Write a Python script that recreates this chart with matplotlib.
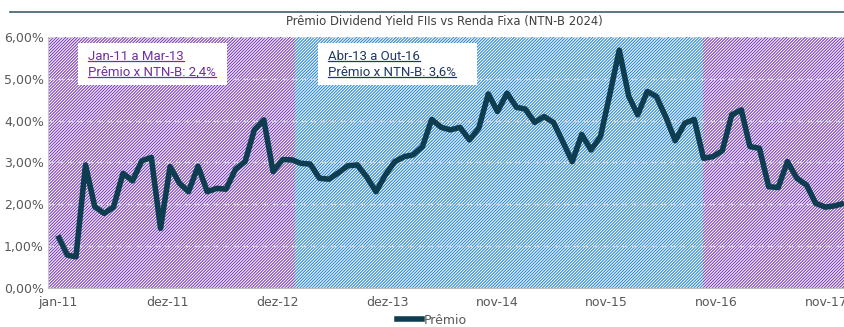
import matplotlib
matplotlib.use("Agg")
import matplotlib.pyplot as plt
from matplotlib.patches import Rectangle
from matplotlib.lines import Line2D
from matplotlib.ticker import FuncFormatter
import pandas as pd

# Monthly premium of FII dividend yield over NTN-B 2024 (%)
months = pd.date_range("2011-01-01", periods=85, freq="MS")
premio = [1.25, 0.78, 0.74, 2.94, 1.94, 1.78, 1.93, 2.74, 2.56, 3.04,
          3.12, 1.42, 2.90, 2.50, 2.30, 2.91, 2.30, 2.38, 2.36, 2.84,
          3.02, 3.78, 4.02, 2.78, 3.07, 3.06, 2.98, 2.96, 2.62, 2.60,
          2.75, 2.92, 2.94, 2.66, 2.30, 2.70, 3.02, 3.14, 3.18, 3.38,
          4.03, 3.84, 3.78, 3.84, 3.54, 3.82, 4.64, 4.22, 4.66, 4.32,
          4.28, 3.96, 4.10, 3.96, 3.50, 3.02, 3.67, 3.30, 3.62, 4.62,
          5.69, 4.58, 4.14, 4.70, 4.58, 4.08, 3.52, 3.94, 4.03, 3.10,
          3.14, 3.28, 4.14, 4.26, 3.38, 3.34, 2.42, 2.40, 3.02, 2.62,
          2.46, 2.02, 1.93, 1.96, 2.02]

# Shaded periods
period_edges = ["2010-11-30", "2013-02-10", "2016-10-01", "2018-01-01"]
period_colors = ["#7d40ba", "#2b88d6", "#7d40ba"]

# Period summaries
box_lines = [["Jan-11 a Mar-13", "Prêmio x NTN-B: 2,4%"],
             ["Abr-13 a Out-16", "Prêmio x NTN-B: 3,6%"]]
box_colors = ["#7030a0", "#1f3864"]

tick_start = pd.Timestamp("2011-01-01")
tick_labels = ["jan-11", "dez-11", "dez-12", "dez-13",
               "nov-14", "nov-15", "nov-16", "nov-17"]
y_ticks = [0, 1, 2, 3, 4, 5, 6]

plt.rcParams["hatch.linewidth"] = 0.8
narrow = ["Liberation Sans Narrow", "DejaVu Sans"]

fig = plt.figure(figsize=(8.44, 3.27), dpi=100)
ax = fig.add_axes([48 / 844, 39.3 / 327, 796 / 844, 250.5 / 327])

edges = [pd.Timestamp(e) for e in period_edges]
for (a, b), c in zip(zip(edges[:-1], edges[1:]), period_colors):
    ax.axvspan(a, b, facecolor="white", edgecolor=c, hatch="/" * 11,
               linewidth=0, zorder=0.5)

ax.plot(months, premio, color="#0e3d50", linewidth=4.0,
        solid_joinstyle="round", solid_capstyle="butt", zorder=2,
        label="Prêmio")

ax.set_xlim(edges[0], edges[-1])
ax.set_ylim(0, 6)
ax.set_yticks(y_ticks)
ax.yaxis.set_major_formatter(
    FuncFormatter(lambda v, p: f"{v:.2f}%".replace(".", ",")))
ticks = [tick_start + pd.Timedelta(days=357 * k) for k in range(len(tick_labels))]
ax.set_xticks(ticks)
ax.set_xticklabels(tick_labels)
ax.tick_params(length=0, labelsize=9, labelcolor="#595959", pad=6)
for lab in ax.get_xticklabels() + ax.get_yticklabels():
    lab.set_family(narrow)
ax.tick_params(axis="y", pad=3)

ax.set_axisbelow("line")
ax.grid(axis="y", color="#d4d4d4", linestyle=(0, (4, 3)), linewidth=1.0)
for s in ["top", "right"]:
    ax.spines[s].set_visible(False)
ax.spines["left"].set_color("#c8c8c8")
ax.spines["bottom"].set_color("#bfbfbf")
ax.spines["left"].set_zorder(1.6)
ax.spines["bottom"].set_zorder(1.6)

# Summary boxes
box_x = [(78, 227), (318, 477)]
text_x = [88, 328]
texts = []
for (x0, x1), tx, lines, col in zip(box_x, text_x, box_lines, box_colors):
    ax.add_patch(Rectangle((x0 / 844, 1 - 85 / 327), (x1 - x0) / 844,
                           42 / 327, transform=fig.transFigure,
                           facecolor="white", edgecolor="none", zorder=3))
    for ln, yy in zip(lines, [56, 72]):
        t = fig.text(tx / 844, 1 - yy / 327, ln, color=col, fontsize=9.5,
                     family=["Roboto", "DejaVu Sans"], va="center", ha="left",
                     zorder=4)
        texts.append((t, col))

fig.text(0.526, 1 - 22 / 327,
         "Prêmio Dividend Yield FIIs vs Renda Fixa (NTN-B 2024)",
         ha="center", va="center", fontsize=8.4, color="#404040",
         family=narrow)

fig.add_artist(Line2D([10 / 844, 1], [1 - 12 / 327, 1 - 12 / 327],
                      color="#3e5f6b", linewidth=1.2))

fig.legend(handles=[Line2D([], [], color="#0e3d50", linewidth=4.0)],
           labels=["Prêmio"], loc="center", bbox_to_anchor=(0.512, 1 - 320 / 327),
           frameon=False, prop={"family": narrow, "size": 9},
           labelcolor="#595959", handlelength=2.0, handletextpad=0.1)

# Underline the box texts
fig.canvas.draw()
renderer = fig.canvas.get_renderer()
inv = fig.transFigure.inverted()
for t, col in texts:
    bb = t.get_window_extent(renderer)
    (fx0, fy0), (fx1, fy1) = inv.transform([(bb.x0, bb.y0 + 1.5), (bb.x1, bb.y0 + 1.5)])
    fig.add_artist(Line2D([fx0, fx1], [fy0, fy1], color=col, linewidth=0.9,
                          zorder=4))

fig.savefig("out.png", dpi=100)
